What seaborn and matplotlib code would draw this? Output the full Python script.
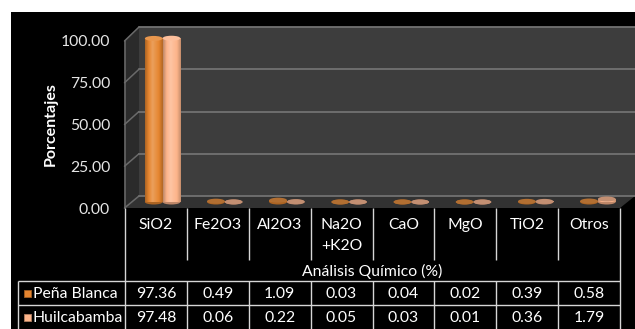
import numpy as np
import pandas as pd
import matplotlib
matplotlib.use("Agg")
import matplotlib.pyplot as plt
import seaborn as sns
from matplotlib.patches import Polygon, Rectangle, Ellipse
from matplotlib.colors import LinearSegmentedColormap, to_rgb

# ---------------- data ----------------
categories = ["SiO2", "Fe2O3", "Al2O3", "Na2O\n+K2O", "CaO", "MgO", "TiO2", "Otros"]
series = ["Peña Blanca", "Huilcabamba"]
pena_blanca = [97.36, 0.49, 1.09, 0.03, 0.04, 0.02, 0.39, 0.58]
huilcabamba = [97.48, 0.06, 0.22, 0.05, 0.03, 0.01, 0.36, 1.79]
y_ticks = [0, 25, 50, 75, 100]
y_label = "Porcentajes"
x_label = "Análisis Químico (%)"
colors = ["#E5852F", "#FDB48A"]

df = pd.DataFrame({
    "cat": categories * 2,
    "val": pena_blanca + huilcabamba,
    "series": [series[0]] * len(categories) + [series[1]] * len(categories),
})

# ---------------- layout (pixel geometry) ----------------
W, H = 635, 329
FL, FR, FB, FT = 124.5, 620.0, 208.0, 41.0     # front plane
BL, BR, BB, BT = 139.0, 635.0, 196.0, 27.0     # back wall
ML, MR, MB, MT = 131.5, 629.0, 202.0, 34.0     # bar plane

sns.set_theme(style="white")
plt.rcParams["font.family"] = ["Lato", "DejaVu Sans"]
FS = 11.3
TXT = "white"
LINE = "#d6d6d6"

fig = plt.figure(figsize=(W / 100, H / 100), dpi=100, facecolor="white")


def fig_rect(x0, y0, x1, y1):
    return [x0 / W, 1 - y1 / H, (x1 - x0) / W, (y1 - y0) / H]


def blend(c1, c2, t):
    a, b = np.array(to_rgb(c1)), np.array(to_rgb(c2))
    return tuple(a * (1 - t) + b * t)


# decoration layer
deco = fig.add_axes([0, 0, 1, 1], zorder=0)
deco.set_xlim(0, W)
deco.set_ylim(H, 0)
deco.axis("off")
deco.add_patch(Rectangle((11, 12), W - 11, H - 12, color="black", lw=0))
deco.add_patch(Polygon([(FL, FT), (BL, BT), (BL, BB), (FL, FB)], closed=True,
                       facecolor="#2b2b2b", edgecolor="none"))
deco.add_patch(Polygon([(FL, FB), (BL, BB), (BR, BB), (FR, FB)], closed=True,
                       facecolor="#323232", edgecolor="none"))
for v in y_ticks:
    yf = FB - (FB - FT) * v / 100
    yb = BB - (BB - BT) * v / 100
    deco.plot([FL, BL], [yf, yb], color="#6a6a6a", lw=1.1)
deco.plot([FL, FL], [FT, FB], color="#6a6a6a", lw=1.1)

# back wall
wall = fig.add_axes(fig_rect(BL, BT, BR, BB), zorder=1)
wall.set_facecolor("#3d3d3d")
wall.set_xlim(0, 1)
wall.set_ylim(0, 100)
for s in wall.spines.values():
    s.set_visible(False)
wall.set_xticks([])
wall.set_yticks([])
for v in y_ticks:
    wall.axhline(v, color="#727272", lw=1.3, clip_on=False)

# front axes: tick labels and y label
front = fig.add_axes(fig_rect(FL, FT, FR, FB), zorder=2)
front.set_facecolor("none")
for s in front.spines.values():
    s.set_visible(False)
front.set_ylim(0, 100)
front.set_xticks([])
front.set_yticks(y_ticks)
front.set_yticklabels([f"{v:.2f}" for v in y_ticks])
front.tick_params(axis="y", length=0, pad=10.4, labelsize=FS, labelcolor="#e6e6e6")
front.set_ylabel(y_label, color=TXT, fontsize=11.5, fontweight="bold")
front.yaxis.set_label_coords(-(FL - 58) / (FR - FL), 0.5)

# bars
ax = fig.add_axes(fig_rect(ML, MT, MR, MB), zorder=3)
ax.set_facecolor("none")
sns.barplot(data=df, x="cat", y="val", hue="series", palette=colors,
            hue_order=series, order=categories, width=0.57, saturation=1,
            legend=False, ax=ax, errorbar=None)
ax.set_xlim(-0.5, len(categories) - 0.5)
ax.set_ylim(0, 100)
ell_h = 5.0 * 100 / (MB - MT)

for p in list(ax.patches):
    base = p.get_facecolor()[:3]
    x0, w, h = p.get_x(), p.get_width(), p.get_height()
    cx = x0 + w / 2
    p.set_edgecolor("none")
    p.set_zorder(2)
    cm = LinearSegmentedColormap.from_list(
        "cyl",
        [(0.0, blend(base, "black", 0.25)), (0.2, base),
         (0.42, blend(base, "white", 0.22)), (0.78, base),
         (1.0, blend(base, "black", 0.22))])
    im = ax.imshow(np.linspace(0, 1, 64)[None, :], cmap=cm, aspect="auto",
                   extent=[x0, x0 + w, 0, h], zorder=2.1, interpolation="bilinear")
    im.set_clip_path(p)
    ax.add_patch(Ellipse((cx, 0), w, ell_h, facecolor=blend(base, "black", 0.25),
                         edgecolor="none", zorder=1.9, clip_on=False))
    cap = blend(base, "white", 0.15) if h > 5 else blend(base, "#3a3a3a", 0.3)
    ax.add_patch(Ellipse((cx, h), w, ell_h, facecolor=cap,
                         edgecolor="none", zorder=3, clip_on=False))

ax.set_xlim(-0.5, len(categories) - 0.5)
ax.set_ylim(0, 100)
ax.set_xticks([])
ax.set_yticks([])
ax.set_xlabel("")
ax.set_ylabel("")
for s in ax.spines.values():
    s.set_visible(False)

# ---------------- data table ----------------
edges = np.linspace(125, FR, len(categories) + 1)
centers = (edges[:-1] + edges[1:]) / 2
R0, R1, R2, R3 = 281.0, 305.0, 329.0, 260.0
TL = 17.5
kw = dict(color=LINE, lw=1.0, solid_capstyle="butt")
deco.plot([125, 125], [FB, H], **kw)
deco.plot([FR, FR], [FB, H], **kw)
for xe in edges[1:-1]:
    deco.plot([xe, xe], [FB, R3], **kw)
    deco.plot([xe, xe], [R0, H], **kw)
deco.plot([TL, TL], [R0, H], **kw)
deco.plot([TL, FR], [R0, R0], **kw)
deco.plot([TL, FR], [R1, R1], **kw)

for xc, lab in zip(centers, categories):
    deco.text(xc, 218, lab, color=TXT, fontsize=FS, ha="center", va="top",
              linespacing=1.6)
deco.text((125 + FR) / 2, 271.5, x_label, color=TXT, fontsize=FS,
          ha="center", va="center")

for yr, name, vals, col in zip([(R0 + R1) / 2, (R1 + R2) / 2], series,
                               [pena_blanca, huilcabamba], colors):
    deco.add_patch(Rectangle((23.5, yr - 3.5), 7, 7,
                             facecolor=col, edgecolor=blend(col, "black", 0.3), lw=0.6))
    deco.text(33, yr + 0.5, name, color=TXT, fontsize=FS, ha="left", va="center")
    for xc, v in zip(centers, vals):
        deco.text(xc, yr + 0.5, f"{v:.2f}", color=TXT, fontsize=FS,
                  ha="center", va="center")

fig.savefig("out.png", dpi=100, facecolor="white")
